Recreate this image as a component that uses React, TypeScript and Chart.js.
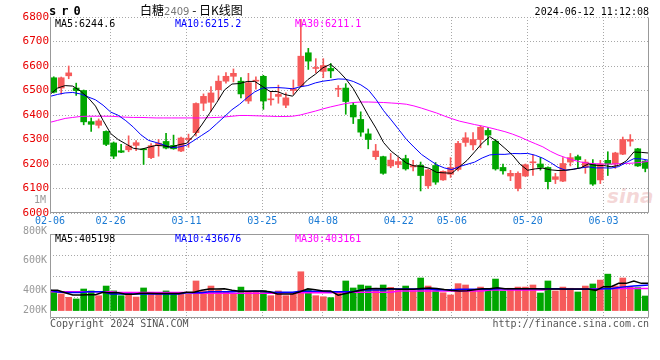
import React, { useEffect, useRef } from 'react';
import { Chart, registerables } from 'chart.js';

Chart.register(...registerables);

// ---------- data ----------
const dates = ['02-06','02-07','02-08','02-19','02-20','02-21','02-22','02-23','02-26','02-27','02-28','02-29',
  '03-01','03-04','03-05','03-06','03-07','03-08','03-11','03-12','03-13','03-14','03-15','03-18','03-19','03-20','03-21','03-22','03-25','03-26','03-27','03-28','03-29',
  '04-01','04-02','04-03','04-08','04-09','04-10','04-11','04-12','04-15','04-16','04-17','04-18','04-19','04-22','04-23','04-24','04-25','04-26','04-29','04-30',
  '05-06','05-07','05-08','05-09','05-10','05-13','05-14','05-15','05-16','05-17','05-20','05-21','05-22','05-23','05-24','05-27','05-28','05-29','05-30','05-31',
  '06-03','06-04','06-05','06-06','06-07','06-11','06-12'];

const opens = [6552,6510,6560,6510,6500,6373,6358,6333,6286,6254, 6258,6276,6260,6226,6276,6292,6276,6253,6300,6328,
  6448,6452,6503,6538,6558,6538,6457,6538,6558,6462, 6476,6440,6500,6518,6654,6590,6578,6590,6505,6510,
  6440,6382,6323,6230,6230,6192,6198,6222,6188,6195, 6111,6194,6135,6158,6178,6288,6278,6300,6337,6293,
  6186,6151,6100,6151,6205,6200,6186,6137,6130,6208, 6230,6186,6200,6135,6215,6200,6240,6293,6262,6212];
const highs = [6556,6555,6600,6530,6502,6388,6384,6335,6290,6280, 6315,6296,6262,6283,6300,6325,6318,6310,6322,6450,
  6486,6516,6560,6573,6588,6553,6570,6556,6562,6494, 6522,6490,6543,6790,6672,6630,6630,6610,6520,6528,
  6450,6413,6343,6280,6232,6243,6226,6236,6215,6208, 6178,6206,6172,6226,6293,6328,6328,6355,6348,6300,
  6200,6174,6168,6200,6237,6226,6188,6162,6226,6243, 6236,6218,6218,6215,6250,6248,6310,6320,6264,6214];
const lows = [6490,6485,6548,6480,6360,6333,6347,6275,6222,6246, 6250,6254,6198,6222,6232,6262,6260,6250,6268,6315,
  6418,6416,6462,6530,6535,6470,6447,6505,6423,6440, 6448,6430,6484,6515,6586,6572,6552,6552,6475,6403,
  6365,6313,6262,6218,6158,6185,6185,6175,6172,6090, 6100,6117,6133,6145,6172,6272,6257,6266,6278,6175,
  6158,6132,6090,6148,6153,6175,6098,6120,6128,6192, 6182,6162,6113,6120,6153,6182,6238,6273,6190,6168];
const closes = [6493,6552,6572,6500,6372,6362,6376,6280,6232,6248, 6274,6287,6258,6275,6285,6265,6262,6306,6305,6447,
  6476,6490,6538,6558,6570,6486,6532,6540,6457,6465, 6484,6470,6508,6640,6620,6594,6602,6580,6508,6455,
  6392,6330,6300,6253,6162,6216,6210,6180,6194,6153, 6176,6126,6170,6186,6284,6307,6300,6350,6318,6180,
  6172,6162,6162,6197,6208,6186,6128,6148,6202,6226, 6218,6208,6118,6200,6200,6245,6300,6300,6192,6182];

const ma5 = [6484,6510,6520,6518,6497.8,6471.6,6436.4,6378,6324.4,6299.6, 6282,6264.2,6259.8,6268.4,6275.8,6274,6269,6278.6,6284.6,6317,
  6359.2,6404.8,6451.2,6501.8,6526.4,6528.4,6536.8,6537.2,6517,6496, 6495.6,6483.2,6476.8,6513.4,6544.4,6566.4,6592.8,6607.2,6580.8,6547.8,
  6507.4,6453,6397,6346,6287.4,6252.2,6228.2,6204.2,6192.4,6190.6, 6182.6,6165.8,6163.8,6162.2,6188.4,6214.6,6249.4,6285.4,6311.8,6291,
  6264,6236.4,6198.8,6174.6,6180.2,6183,6176.2,6173.4,6174.4,6178, 6184.4,6200.4,6194.4,6194,6188.8,6194.2,6212.6,6249,6247.4,6244.6];
const ma10 = [6476,6484,6490,6492,6486,6474,6462,6440,6412,6398.7, 6376.8,6350.3,6318.9,6296.4,6287.7,6278,6266.6,6269.2,6276.5,6296.4,
  6316.6,6336.9,6364.9,6393.2,6421.7,6443.8,6470.8,6494.2,6509.4,6511.2, 6512,6510,6507,6515.2,6520.2,6531,6538,6542,6547.1,6546.1,
  6536.9,6522.9,6502.1,6463.4,6417.6,6379.8,6340.6,6300.6,6269.2,6239, 6217.4,6197,6184,6177.3,6189.5,6198.6,6207.6,6224.6,6237,6239.7,
  6239.3,6242.9,6242.1,6243.2,6235.6,6223.5,6206.3,6186.1,6174.5,6179.1, 6183.7,6188.3,6183.9,6184.2,6183.4,6189.3,6206.5,6221.7,6220.7,6215.2];
const ma30 = [6370,6378,6386,6390,6394,6395,6395,6395,6395,6393, 6391,6390,6390,6389,6388,6388,6388,6388,6388,6388,
  6388,6389,6390,6392,6395,6398,6398,6397,6396,6395, 6394,6394,6395,6400,6408,6416,6425,6433,6440,6447,
  6451,6453,6453,6452,6451,6449,6447,6444,6437,6428, 6418,6408,6396,6385,6375,6368,6361,6355,6348,6340,
  6332,6322,6310,6296,6283,6270,6252,6237,6226,6216, 6208,6203,6201,6200,6200,6201,6202,6204,6207,6211.1];

// volume in thousands
const volumes = [399,377,354,343,410,397,365,430,397,365, 388,356,417,388,377,397,381,377,377,464,
  397,430,403,392,377,423,392,392,399,365, 397,365,377,526,408,365,358,352,392,464,
  417,437,430,403,437,421,403,430,399,484, 430,397,385,370,446,437,399,423,403,477,
  397,415,423,423,437,383,464,397,423,415, 390,430,444,470,510,430,484,423,419,363];
const volMa5 = [401,401,385,370,370,372,372,388,385,385, 375,375,382,382,380,380,380,380,388,388,
  401,410,410,412,401,395,395,397,397,392, 377,377,377,392,412,405,397,397,368,380,
  392,402,412,414,412,412,408,408,408,414, 416,414,406,400,397,398,405,412,412,419,
  412,412,412,412,411,410,410,410,410,410, 410,410,401,426,426,448,448,464,448,448];
const volMa10 = [401,390,387,387,387,392,392,392,377,377, 377,377,377,377,377,377,377,377,385,385,
  385,392,392,392,392,395,395,395,395,388, 388,388,388,395,395,395,395,392,392,392,
  392,403,403,403,403,410,410,410,410,410, 410,405,405,405,408,408,408,408,408,412,
  412,412,412,412,412,412,412,412,408,408, 408,408,408,412,412,420,426,430,434,437];
const volMa30 = [392,392,392,392,392,392,392,392,392,386, 386,386,386,386,386,386,386,386,386,382,
  382,382,382,382,382,382,382,382,382,382, 382,385,385,385,385,385,385,385,388,388,
  388,388,388,388,388,388,397,397,397,397, 397,397,397,397,397,397,397,397,403,403,
  403,403,403,403,403,403,410,410,410,410, 410,410,410,413,413,413,413,413,413,413];

const tickLabels = ['02-06','02-26','03-11','03-25','04-08','04-22','05-06','05-20','06-03'];
const volTickValues = [800000, 600000, 400000, 200000];
const volTickLabels = ['800K', '600K', '400K', '200K'];

const priceMin = 6000, priceMax = 6800, priceStep = 100;
const volMin = 215000, volMax = 780000, volBase = 265000;

// ---------- styles ----------
const RED = '#f65a5a';
const GREEN = '#00a600';
const GRID = '#a8a8a8';
const MONO = '"DejaVu Sans Mono", monospace';

const N = dates.length;
// the moving-average lines and the date grid use an edge-to-edge index spacing
const lineX = (i: number) => (i * N) / (N - 1) - 0.5;
const candleColors = closes.map((c, i) => (c >= opens[i] ? RED : GREEN));

const framePlugin = {
  id: 'frame',
  afterDatasetsDraw(chart: any, _args: any, opts: any) {
    const { ctx, chartArea: a } = chart;
    const l = Math.round(a.left) + 0.5, r = Math.round(a.right) - 0.5;
    const t = Math.round(a.top) + 0.5, b = Math.round(a.bottom) - 0.5;
    ctx.save();
    ctx.strokeStyle = '#999';
    ctx.lineWidth = 1;
    ctx.beginPath();
    if (opts.top) { ctx.moveTo(l, t); ctx.lineTo(r, t); }
    ctx.moveTo(l, t); ctx.lineTo(l, b); ctx.lineTo(r, b); ctx.lineTo(r, t);
    ctx.stroke();
    ctx.restore();
  },
};

const volLabelPlugin = {
  id: 'volLabels',
  afterDraw(chart: any) {
    const y = chart.scales.y;
    const ctx = chart.ctx;
    const basePx = y.getPixelForValue(volBase);
    ctx.save();
    ctx.fillStyle = '#999';
    ctx.font = `10px ${MONO}`;
    ctx.textAlign = 'right';
    ctx.textBaseline = 'middle';
    volTickValues.forEach((v, k) => {
      ctx.fillText(volTickLabels[k], chart.chartArea.left - 3, Math.min(y.getPixelForValue(v), basePx));
    });
    ctx.restore();
  },
};

function xScale(showLabels: boolean) {
  return {
    type: 'linear',
    min: -0.5,
    max: N - 0.5,
    offset: false,
    afterBuildTicks: (ax: any) => {
      ax.ticks = tickLabels.map((l) => ({ value: lineX(dates.indexOf(l)) }));
    },
    afterFit: (ax: any) => { ax.height = showLabels ? 19 : 0; },
    ticks: {
      display: showLabels,
      autoSkip: false,
      maxRotation: 0,
      minRotation: 0,
      color: '#1a7ad4',
      font: { family: MONO, size: 10 },
      padding: 2,
      callback: (_v: any, idx: number) => tickLabels[idx],
    },
    grid: { offset: false, color: GRID, drawTicks: false, lineWidth: 1 },
    border: { display: false, dash: [1, 2] },
  };
}

function lineDs(values: number[], color: string, width: number) {
  return {
    type: 'line',
    data: values.map((v, i) => ({ x: lineX(i), y: v })),
    borderColor: color,
    borderWidth: width,
    pointRadius: 0,
    fill: false,
    tension: 0,
    order: 0,
  };
}

function priceConfig(): any {
  return {
    type: 'bar',
    data: {
      datasets: [
        lineDs(ma5, '#000000', 1),
        lineDs(ma10, '#0000ff', 1),
        lineDs(ma30, '#ff00ff', 1),
        {
          type: 'bar',
          data: opens.map((o, i) => ({ x: i, y: [o, closes[i]] })),
          backgroundColor: candleColors,
          borderWidth: 0,
          barThickness: 6,
          minBarLength: 1,
          grouped: false,
          order: 1,
        },
        {
          type: 'bar',
          data: lows.map((l, i) => ({ x: i, y: [l, highs[i]] })),
          backgroundColor: candleColors,
          borderWidth: 0,
          barThickness: 1,
          grouped: false,
          order: 2,
        },
      ],
    },
    options: {
      animation: false,
      responsive: false,
      events: [],
      layout: { padding: { top: 17, right: 11, left: 0, bottom: 0 } },
      plugins: { legend: { display: false }, tooltip: { enabled: false }, frame: { top: false } },
      scales: {
        x: xScale(true),
        y: {
          type: 'linear',
          min: priceMin,
          max: priceMax,
          beginAtZero: false,
          afterFit: (ax: any) => { ax.width = 50; },
          ticks: {
            stepSize: priceStep,
            color: '#e80000',
            font: { family: MONO, size: 11 },
            padding: 1,
            callback: (v: any) => String(v),
          },
          grid: { color: GRID, drawTicks: false, lineWidth: 1 },
          border: { display: false, dash: [1, 2] },
        },
      },
    },
    plugins: [framePlugin],
  };
}

function volConfig(): any {
  return {
    type: 'bar',
    data: {
      datasets: [
        lineDs(volMa5.map((v) => v * 1000), '#000000', 1.5),
        lineDs(volMa10.map((v) => v * 1000), '#0000ff', 1.5),
        lineDs(volMa30.map((v) => v * 1000), '#ff00ff', 1.5),
        {
          type: 'bar',
          data: volumes.map((v, i) => ({ x: i, y: [volBase, v * 1000] })),
          backgroundColor: candleColors,
          borderWidth: 0,
          barThickness: 6,
          grouped: false,
          order: 1,
        },
      ],
    },
    options: {
      animation: false,
      responsive: false,
      events: [],
      layout: { padding: { top: 234, right: 11, left: 0, bottom: 42 } },
      plugins: { legend: { display: false }, tooltip: { enabled: false }, frame: { top: true } },
      scales: {
        x: xScale(false),
        y: {
          type: 'linear',
          min: volMin,
          max: volMax,
          beginAtZero: false,
          afterBuildTicks: (ax: any) => {
            ax.ticks = [0, 1, 2, 3, 4].map((k) => ({ value: volMin + (k * (volMax - volMin)) / 4 }));
          },
          afterFit: (ax: any) => { ax.width = 50; },
          ticks: { display: false },
          grid: { color: GRID, drawTicks: false, lineWidth: 1 },
          border: { display: false, dash: [1, 2] },
        },
      },
    },
    plugins: [framePlugin, volLabelPlugin],
  };
}

const txt = (extra: any) => ({
  position: 'absolute' as const,
  fontFamily: MONO,
  fontSize: 10,
  lineHeight: '10px',
  whiteSpace: 'pre' as const,
  ...extra,
});

export default function App() {
  const priceRef = useRef<HTMLCanvasElement>(null);
  const volRef = useRef<HTMLCanvasElement>(null);

  useEffect(() => {
    document.body.style.margin = '0';
    const c2 = new Chart(volRef.current as HTMLCanvasElement, volConfig());
    const c1 = new Chart(priceRef.current as HTMLCanvasElement, priceConfig());
    return () => {
      c1.destroy();
      c2.destroy();
    };
  }, []);

  return (
    <div style={{ position: 'relative', width: 660, height: 360, background: '#fff', overflow: 'hidden' }}>
      <div style={txt({ left: 607, top: 186, fontFamily: '"DejaVu Sans", sans-serif', fontSize: 20, lineHeight: '20px', fontWeight: 'bold', fontStyle: 'italic', color: 'rgba(225,140,140,0.35)' })}>sina</div>
      <canvas ref={volRef} width={660} height={360} style={{ position: 'absolute', left: 0, top: 0 }} />
      <canvas ref={priceRef} width={660} height={232} style={{ position: 'absolute', left: 0, top: 0 }} />

      <div style={txt({ left: 49, top: 5, fontSize: 12, lineHeight: '13px', fontWeight: 'bold', letterSpacing: '5px', color: '#000' })}>sr0</div>
      <div style={txt({ left: 140, top: 2, fontFamily: '"Noto Sans CJK SC", sans-serif', fontSize: 12, lineHeight: '15px', color: '#000' })}>
        白糖<span style={{ color: '#777', fontFamily: '"DejaVu Sans", sans-serif', fontSize: 10 }}>2409</span> - 日K线图
      </div>
      <div style={txt({ right: 11, top: 7, color: '#000' })}>2024-06-12 11:12:08</div>

      <div style={txt({ left: 55, top: 19, color: '#000' })}>MA5:6244.6</div>
      <div style={txt({ left: 175, top: 19, color: '#0000ff' })}>MA10:6215.2</div>
      <div style={txt({ left: 295, top: 19, color: '#ff00ff' })}>MA30:6211.1</div>

      <div style={txt({ right: 614, top: 195, color: '#999' })}>1M</div>

      <div style={txt({ left: 55, top: 234, color: '#000' })}>MA5:405198</div>
      <div style={txt({ left: 175, top: 234, color: '#0000ff' })}>MA10:436676</div>
      <div style={txt({ left: 295, top: 234, color: '#ff00ff' })}>MA30:403161</div>

      <div style={txt({ left: 50, top: 319, color: '#555' })}>Copyright 2024 SINA.COM</div>
      <div style={txt({ right: 11, top: 319, color: '#555' })}>http://finance.sina.com.cn</div>
    </div>
  );
}
